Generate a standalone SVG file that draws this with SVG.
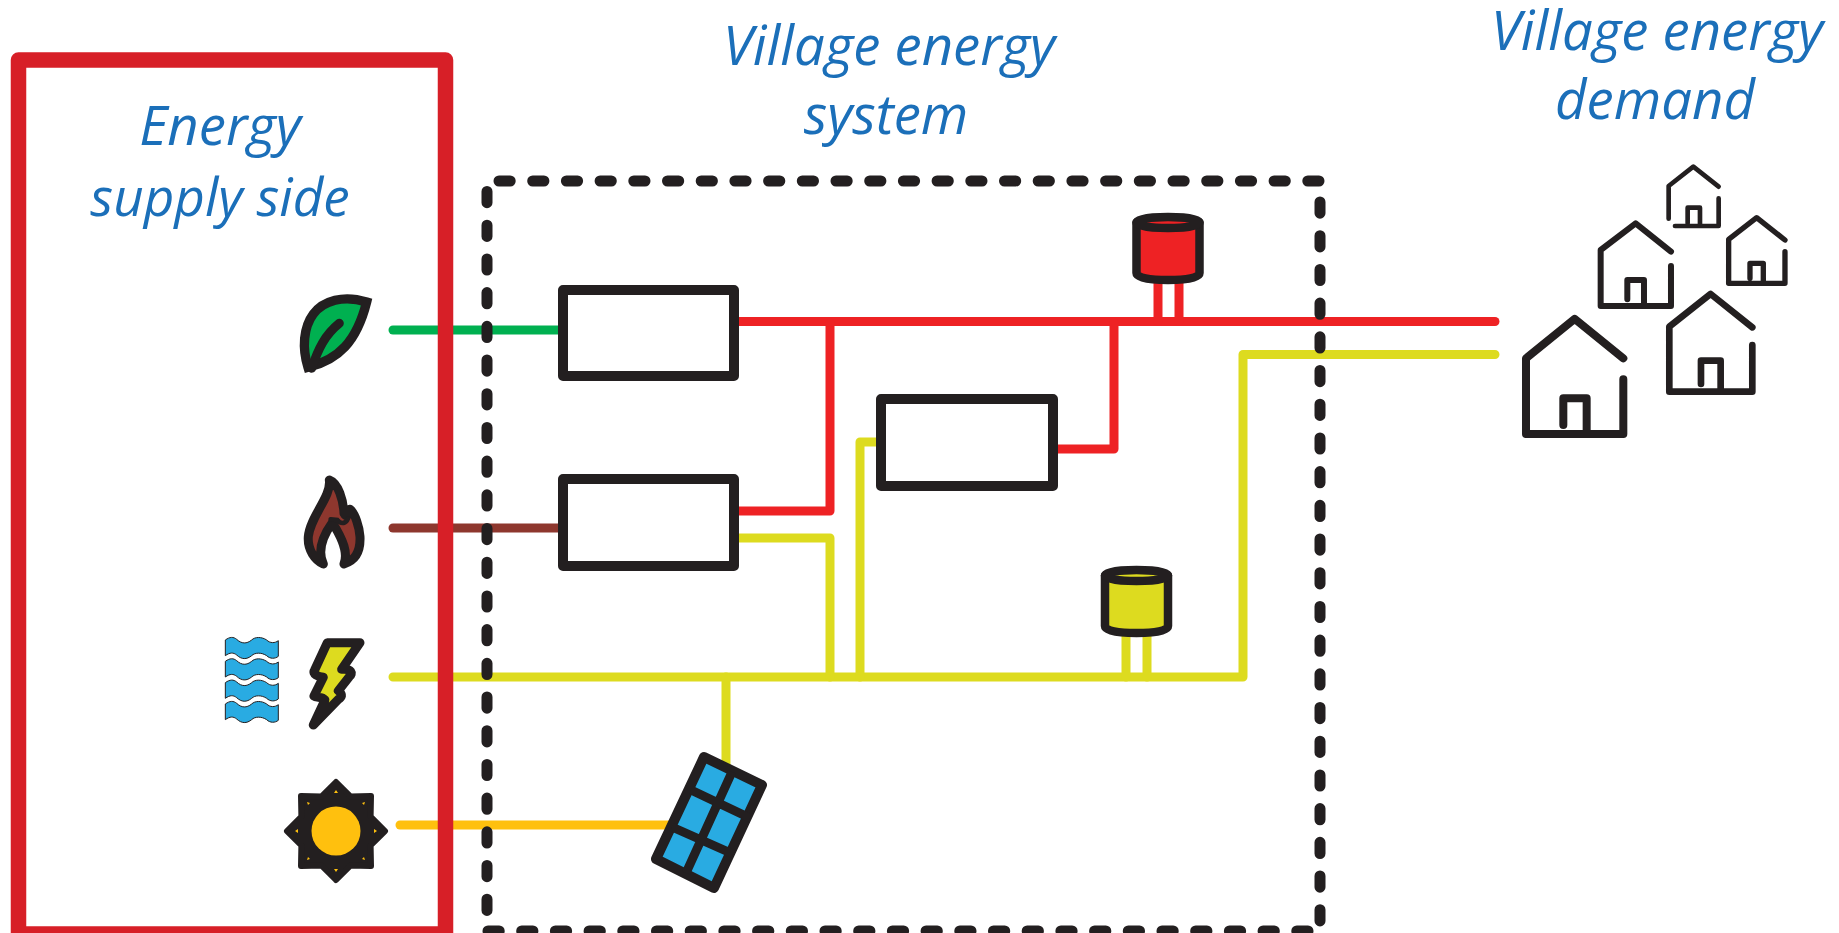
<svg xmlns="http://www.w3.org/2000/svg" xmlns:xlink="http://www.w3.org/1999/xlink" width="1839" height="933" viewBox="0 0 1839 933">
<style>
.t{font-family:"Open Sans","Noto Sans",sans-serif;font-style:italic;font-size:54.5px;fill:#1b6fb9;text-anchor:middle}
.w{fill:none;stroke-width:9;stroke-linecap:round;stroke-linejoin:round}
.r{stroke:#ee2224}.y{stroke:#dddb1f}
.k{stroke:#231f20;stroke-linejoin:round;stroke-linecap:round}
.box{fill:#fff;stroke:#231f20;stroke-width:10;stroke-linejoin:round}
.h{fill:none;stroke:#231f20;stroke-linejoin:round;stroke-linecap:round}
.wave{fill:#29abe2;stroke:#231f20;stroke-width:3}
.tri{fill:#ffc00e}
.dash{fill:none;stroke:#231f20;stroke-width:11;stroke-linecap:round;stroke-dasharray:11.2 22.5}
</style>
<defs>
<path id="band" d="M46 60C60 50 70 50 80 58C95 72 110 72 125 60C135 50 155 50 170 60C180 70 195 70 205 62V109C195 117 180 117 170 107C155 97 135 97 125 107C110 119 95 119 80 105C70 97 60 97 46 107Z"/>
<g id="tank" stroke="#231f20" stroke-width="8.5" stroke-linejoin="round">
<path d="M1136.5 222.5V273C1136.5 278 1150 280 1168 280C1186 280 1199.5 278 1199.5 273V222.5Z"/>
<ellipse cx="1168" cy="222.5" rx="31.5" ry="5.5"/>
</g>
</defs>
<rect width="1839" height="933" fill="#fff"/>
<g id="connectors">
<path class="w" stroke="#00b050" d="M393 330H563"/>
<path class="w" stroke="#8e372e" d="M393 528H563"/>
<path class="w y" d="M393 677H1243V354.5H1495"/>
<path class="w" stroke="#ffc00e" d="M400 825H670"/>
<path class="w y" d="M726 677V765"/>
<path class="w r" d="M734 321.5H1495"/>
<path class="w r" d="M734 511H830V323"/>
<path class="w y" d="M734 538H830V677"/>
<path class="w y" d="M860 677V442H881"/>
<path class="w r" d="M1053 449H1114V323"/>
<path class="w r" d="M1158 280V321M1179 280V321"/>
<path class="w y" d="M1126 634V677M1147 634V677"/>
</g>
<g id="supply-frame"><rect x="18.5" y="60" width="427" height="874" fill="none" stroke="#d71f27" stroke-width="15.5" stroke-linejoin="round"/></g>
<g id="system-frame">
<path class="dash" d="M499 181H1319"/>
<path class="dash" d="M487 191.5V911"/>
<path class="dash" d="M1320 202V925"/>
<path class="dash" d="M488 931H1320"/>
</g>
<g id="label-supply"><text class="t" x="220" y="145">Energy</text><text class="t" x="220" y="216" style="font-size:53px">supply side</text></g>
<g id="label-system"><text class="t" x="889" y="65">Village energy</text><text class="t" x="886" y="134">system</text></g>
<g id="label-demand"><text class="t" x="1657" y="50">Village energy</text><text class="t" x="1655" y="119">demand</text></g>
<g id="box-1"><rect class="box" x="563" y="290" width="171" height="86"/></g>
<g id="box-2"><rect class="box" x="563" y="479" width="171" height="87"/></g>
<g id="box-3"><rect class="box" x="881" y="399" width="172" height="87"/></g>
<g id="leaf" transform="translate(210 270) scale(.3333)">
<path fill="#00b050" stroke="#231f20" stroke-width="28" stroke-linejoin="miter" stroke-miterlimit="6" d="M470 96C400 74 340 92 310 132C280 172 276 235 294 292C385 270 440 215 470 96Z"/>
<path class="k" fill="none" stroke-width="27" stroke-linecap="butt" d="M305 295C325 235 345 195 388 160"/>
</g>
<g id="flame" transform="translate(210 270) scale(.3333)">
<path class="k" fill="#8e372e" stroke-width="27" d="M358 630C365 680 300 740 295 800C292 840 315 870 340 882C325 850 330 810 367 758C400 810 415 850 402 882C435 872 452 845 450 800C448 770 435 730 420 718C415 735 410 745 402 730C400 690 385 640 358 630Z"/>
<path fill="none" stroke="#231f20" stroke-width="14" stroke-linecap="round" d="M362 748L382 750C395 765 408 760 414 745"/>
</g>
<g id="water" transform="translate(210 620) scale(.3333)" class="wave">
<use xlink:href="#band"/><use xlink:href="#band" y="64"/><use xlink:href="#band" y="128"/><use xlink:href="#band" y="192"/>
</g>
<g id="bolt" transform="translate(210 620) scale(.3333)">
<path class="k" fill="#dddb1f" stroke-width="27" d="M352 68H450L395 148C425 145 430 160 418 170L385 212C400 225 395 232 385 238L310 315L345 240C335 228 320 235 312 228L340 172C325 170 305 162 314 150Z"/>
</g>
<g id="sun">
<polygon fill="#231f20" stroke="#231f20" stroke-width="6" stroke-linejoin="round" points="336,782 350.35,796.4 371,796 370.6,816.65 385,831 370.6,845.35 371,866 350.35,865.6 336,880 321.65,865.6 301,866 301.4,845.35 287,831 301.4,816.65 301,796 321.65,796.4"/>
<circle cx="336" cy="831" r="24.5" fill="#ffc00e"/>
<g class="tri"><path d="M336 790l2 3h-4zM336 872l2 -3h-4zM295 831l3 -2v4zM377 831l-3 -2v4zM307 802l3 1-2 2zM365 802l-3 1 2 2zM307 860l3 -1-2 -2zM365 860l-3 -1 2 -2z"/></g>
</g>
<g id="solar-panel">
<path d="M704 757L762 785L714 888L656 859Z" fill="#29abe2" stroke="#231f20" stroke-width="10" stroke-linejoin="round"/>
<path d="M732 772L686 873M691 790L750 818M672 827L733 854" fill="none" stroke="#231f20" stroke-width="9"/>
</g>
<g id="store-red" fill="#ee2224"><use xlink:href="#tank"/></g>
<g id="store-yellow" fill="#dddb1f"><use xlink:href="#tank" x="-31.5" y="353"/></g>
<g id="houses" transform="translate(1500 150) scale(.3333)">
<g id="house-1"><path class="h" stroke-width="24" d="M370 688V852H78V625L224 507L370 625M190 825V745H260V852"/></g>
<g id="house-2"><path class="h" stroke-width="20" d="M757 585V725H508V530L632 432L757 532M603 702V632H662V725"/></g>
<g id="house-3"><path class="h" stroke-width="18" d="M513 348V468H302V300L407 220L513 305M382 448V390H432V468"/></g>
<g id="house-4"><path class="h" stroke-width="16" d="M855 305V400H686V268L770 203L855 270M750 385V340H790V400"/></g>
<g id="house-5"><path class="h" stroke-width="14" d="M656 145V228H525M506 206V108L580 50L656 110M563 220V173H600V228"/></g>
</g>
</svg>
